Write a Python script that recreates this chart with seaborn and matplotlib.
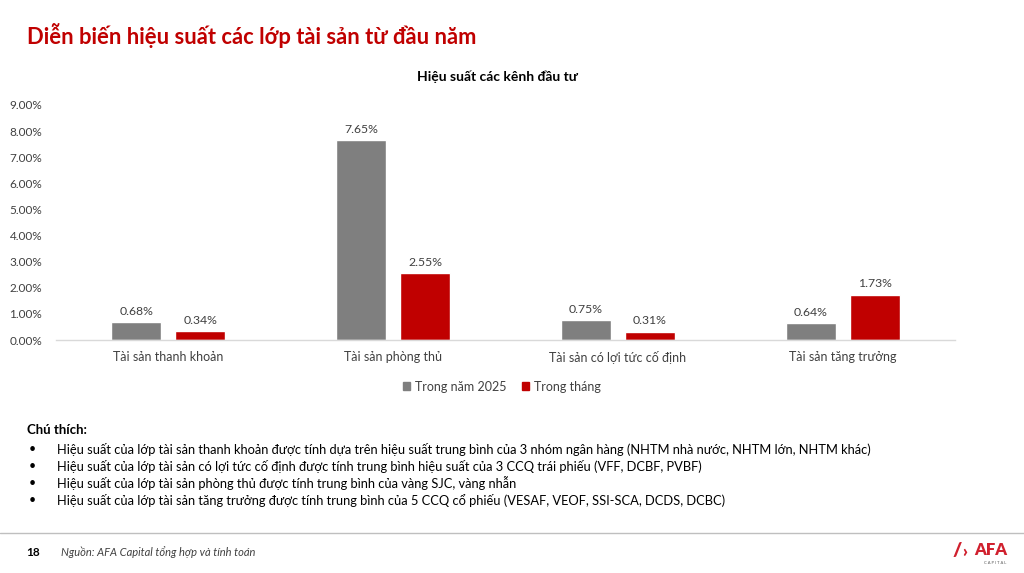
import matplotlib
matplotlib.use("Agg")
import matplotlib.pyplot as plt
import seaborn as sns
import pandas as pd
from matplotlib.ticker import PercentFormatter
from matplotlib.patches import Rectangle

categories = ["Tài sản thanh khoản", "Tài sản phòng thủ", "Tài sản có lợi tức cố định", "Tài sản tăng trưởng"]
series_names = ["Trong năm 2025", "Trong tháng"]
year_vals = [0.68, 7.65, 0.75, 0.64]
month_vals = [0.34, 2.55, 0.31, 1.73]
y_ticks = [0, 1, 2, 3, 4, 5, 6, 7, 8, 9]
notes = [
    "Hiệu suất của lớp tài sản thanh khoản được tính dựa trên hiệu suất trung bình của 3 nhóm ngân hàng (NHTM nhà nước, NHTM lớn, NHTM khác)",
    "Hiệu suất của lớp tài sản có lợi tức cố định được tính trung bình hiệu suất của 3 CCQ trái phiếu (VFF, DCBF, PVBF)",
    "Hiệu suất của lớp tài sản phòng thủ được tính trung bình của vàng SJC, vàng nhẫn",
    "Hiệu suất của lớp tài sản tăng trưởng được tính trung bình của 5 CCQ cổ phiếu (VESAF, VEOF, SSI-SCA, DCDS, DCBC)",
]

GRAY = "#7F7F7F"
RED = "#C00000"

sns.set_theme(style="white")
plt.rcParams["font.family"] = ["Lato", "DejaVu Sans"]

df = pd.DataFrame({
    "cat": categories * 2,
    "series": [series_names[0]] * 4 + [series_names[1]] * 4,
    "val": year_vals + month_vals,
})

fig = plt.figure(figsize=(10.24, 5.73), dpi=100)
ax = fig.add_axes([0.0547, 0.4066, 0.878, 0.4102])
sns.barplot(data=df, x="cat", y="val", hue="series", order=categories,
            hue_order=series_names, palette=[GRAY, RED], width=0.57, gap=0.22,
            ax=ax, legend=False, saturation=1)

ax.set_xlim(-0.5, 3.5)
ax.set_ylim(0, 9)
ax.set_yticks(y_ticks)
ax.yaxis.set_major_formatter(PercentFormatter(decimals=2))
ax.tick_params(axis="y", labelsize=8.5, colors="#404040", length=0, pad=10)
ax.tick_params(axis="x", labelsize=9, colors="#404040", length=0, pad=8)
ax.set_xlabel("")
ax.set_ylabel("")
for s in ["top", "right", "left"]:
    ax.spines[s].set_visible(False)
ax.spines["bottom"].set_color("#D9D9D9")
ax.spines["bottom"].set_linewidth(1)

for cont in ax.containers:
    ax.bar_label(cont, labels=[f"{v:.2f}%" for v in cont.datavalues],
                 fontsize=8.8, color="#404040", padding=4)

# chart subtitle
fig.text(0.486, 0.866, "Hiệu suất các kênh đầu tư", ha="center", va="center",
         fontsize=10, fontweight="bold", color="black")

# legend
handles = [Rectangle((0, 0), 1, 1, color=GRAY), Rectangle((0, 0), 1, 1, color=RED)]
fig.legend(handles, series_names, loc="center", bbox_to_anchor=(0.49, 0.325),
           ncol=2, frameon=False, fontsize=9, handlelength=0.6, handleheight=0.6,
           columnspacing=1.2, handletextpad=0.4, labelcolor="#404040")

# page title
fig.text(0.026, 0.938, "Diễn biến hiệu suất các lớp tài sản từ đầu năm", ha="left",
         va="center", fontsize=15.8, fontweight="bold", color=RED)

# notes
fig.text(0.026, 0.249, "Chú thích:", ha="left", va="center", fontsize=9.5,
         fontweight="bold", color="black")
for i, n in enumerate(notes):
    y = 0.216 - i * 0.0297
    fig.text(0.028, y, "•", ha="left", va="center", fontsize=9, color="black")
    fig.text(0.056, y, n, ha="left", va="center", fontsize=9.3, color="black")

# footer
fig.add_artist(plt.Line2D([0, 1], [0.069, 0.069], transform=fig.transFigure,
                          color="#BFBFBF", linewidth=1))
fig.text(0.026, 0.035, "18", ha="left", va="center", fontsize=8.5,
         fontweight="bold", color="black")
fig.text(0.060, 0.037, "Nguồn: AFA Capital tổng hợp và tính toán", ha="left",
         va="center", fontsize=8, fontstyle="italic", color="#404040")
LOGO = "#D0202E"
fig.text(0.930, 0.040, "/", ha="left", va="center", fontsize=14,
         fontweight="heavy", color=LOGO)
fig.text(0.940, 0.036, "›", ha="left", va="center", fontsize=12,
         fontweight="heavy", color=LOGO)
fig.text(0.984, 0.040, "AFA", ha="right", va="center", fontsize=12,
         fontweight="heavy", color=LOGO)
fig.text(0.983, 0.018, "C A P I T A L", ha="right", va="center", fontsize=3,
         color="#555555")

fig.savefig("out.png", dpi=100, facecolor="white")
